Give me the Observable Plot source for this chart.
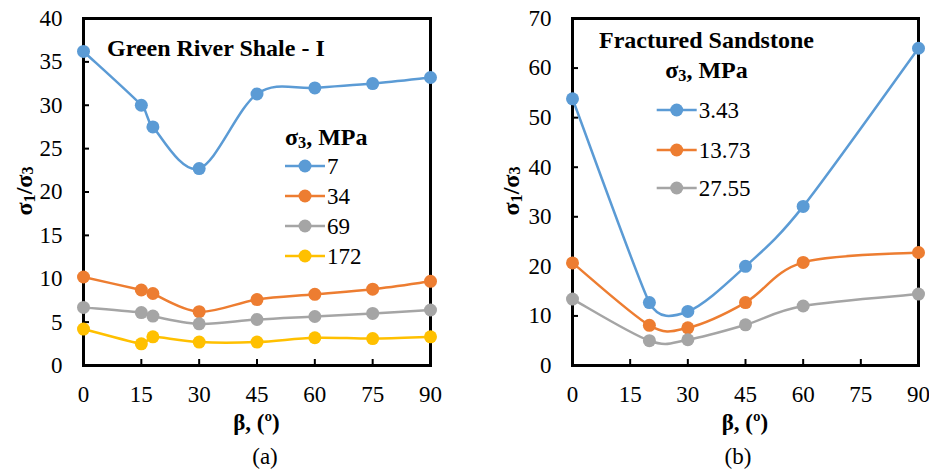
<!DOCTYPE html>
<html><head><meta charset="utf-8">
<script src="https://cdn.jsdelivr.net/npm/d3@7"></script>
<script src="https://cdn.jsdelivr.net/npm/@observablehq/plot@0.6"></script>
<style>
body{margin:0;background:#fff;font-family:"Liberation Serif",serif;}
#wrap{display:flex;width:929px;height:471px;}
.panel{position:relative;height:471px;}
.panel svg, .panel svg text, .panel svg tspan{font-family:"Liberation Serif",serif !important;}
.cap{position:absolute;top:444px;font-size:23px;line-height:26px;color:#000;transform:translateX(-50%);white-space:nowrap;}
</style></head><body>
<div id="wrap"><div class="panel" id="pa" style="width:465px"></div><div class="panel" id="pb" style="width:464px"></div></div>
<script>
// ---- Panel (a): Green River Shale - I ----
const betaA = [0, 15, 18, 30, 45, 60, 75, 90];
const seriesA = ["7", "34", "69", "172"];
const a7   = [36.2, 30.0, 27.5, 22.7, 31.3, 32.0, 32.5, 33.2];
const a34  = [10.2, 8.7, 8.3, 6.2, 7.6, 8.2, 8.8, 9.7];
const a69  = [6.7, 6.1, 5.7, 4.8, 5.3, 5.65, 6.0, 6.4];
const a172 = [4.2, 2.5, 3.3, 2.7, 2.7, 3.2, 3.1, 3.3];
const colorsA = ["#5B9BD5", "#ED7D31", "#A5A5A5", "#FFC000"];
const xTicks = [0, 15, 30, 45, 60, 75, 90];
const yTicksA = [0, 5, 10, 15, 20, 25, 30, 35, 40];

// ---- Panel (b): Fractured Sandstone ----
const betaB = [0, 20, 30, 45, 60, 90];
const seriesB = ["3.43", "13.73", "27.55"];
const b343  = [53.8, 12.7, 10.9, 20.0, 32.1, 64.0];
const b1373 = [20.7, 8.1, 7.6, 12.7, 20.8, 22.8];
const b2755 = [13.4, 5.0, 5.2, 8.2, 12.0, 14.4];
const colorsB = ["#5B9BD5", "#ED7D31", "#A5A5A5"];
const yTicksB = [0, 10, 20, 30, 40, 50, 60, 70];

function rows(beta, names, arrs) {
  const out = [];
  names.forEach((n, i) => arrs[i].forEach((v, j) => out.push({beta: beta[j], v, s: n})));
  return out;
}
const rowsA = rows(betaA, seriesA, [a7, a34, a69, a172]);
const rowsB = rows(betaB, seriesB, [b343, b1373, b2755]);

// Spreadsheet-style smoothed line: Catmull-Rom (1/6) tangents, clamped to half the adjacent segment length
function smoothCurve(context) {
  let pts;
  return {
    areaStart() {}, areaEnd() {},
    lineStart() { pts = []; },
    point(x, y) { pts.push([+x, +y]); },
    lineEnd() {
      const n = pts.length;
      if (!n) return;
      context.moveTo(pts[0][0], pts[0][1]);
      if (n === 1) return;
      if (n === 2) { context.lineTo(pts[1][0], pts[1][1]); return; }
      const T = pts.map((p, i) => {
        const a = pts[Math.max(0, i - 1)], b = pts[Math.min(n - 1, i + 1)];
        let tx = (b[0] - a[0]) / 6, ty = (b[1] - a[1]) / 6;
        const L = Math.hypot(tx, ty);
        if (L > 0) {
          let s = 1;
          if (i > 0) s = Math.min(s, Math.hypot(p[0] - a[0], p[1] - a[1]) / 2 / L);
          if (i < n - 1) s = Math.min(s, Math.hypot(b[0] - p[0], b[1] - p[1]) / 2 / L);
          tx *= s; ty *= s;
        }
        return [tx, ty];
      });
      for (let i = 0; i < n - 1; i++) {
        const p = pts[i], q = pts[i + 1];
        context.bezierCurveTo(p[0] + T[i][0], p[1] + T[i][1], q[0] - T[i + 1][0], q[1] - T[i + 1][1], q[0], q[1]);
      }
    }
  };
}

function make(cfg) {
  return Plot.plot({
    width: cfg.width, height: 440,
    marginLeft: cfg.ml, marginRight: cfg.mr, marginTop: 18, marginBottom: 75,
    style: {fontSize: "23px", color: "#000", background: "#fff", overflow: "hidden"},
    x: {domain: [0, 90]},
    y: {domain: cfg.ydom},
    color: {domain: cfg.names, range: cfg.colors},
    marks: [
      Plot.axisY({ticks: cfg.yticks, tickSize: 0, tickPadding: 21, label: null, fontSize: 23}),
      Plot.axisY({ticks: cfg.yticks, tickSize: -6, text: null, label: null, strokeWidth: 2}),
      Plot.axisX({ticks: xTicks, tickSize: 0, tickPadding: 20, label: null, fontSize: 23}),
      Plot.axisX({ticks: xTicks, tickSize: -6, text: null, label: null, strokeWidth: 2}),
      Plot.frame({stroke: "#000", strokeWidth: 3}),
      Plot.line(cfg.data, {x: "beta", y: "v", z: "s", stroke: "s", curve: smoothCurve, strokeWidth: 2.5}),
      Plot.dot(cfg.data, {x: "beta", y: "v", fill: "s", r: 6.5})
    ]
  });
}

function decorate(svg, o) {
  const s = d3.select(svg);
  // y-axis title
  const yt = s.append("text").attr("transform", `translate(${o.ylx},191) rotate(-90)`)
    .attr("text-anchor", "middle").attr("dominant-baseline", "central")
    .attr("font-weight", "bold").attr("font-size", 24);
  yt.append("tspan").text("σ");
  yt.append("tspan").text("1").attr("font-size", "0.68em").attr("dy", "0.3em");
  yt.append("tspan").text("/σ").attr("dy", "-0.2em");
  yt.append("tspan").text("3").attr("font-size", "0.68em").attr("dy", "0.2em");
  // x-axis title
  s.append("text").attr("x", o.xlx).attr("y", 422).attr("text-anchor", "middle")
    .attr("dominant-baseline", "central").attr("font-weight", "bold").attr("font-size", 23)
    .text("β, (º)");
  // titles
  o.titles.forEach(t => {
    const el = s.append("text").attr("x", t.x).attr("y", t.y).attr("text-anchor", t.anchor)
      .attr("dominant-baseline", "central").attr("font-weight", "bold").attr("font-size", 24);
    if (t.sigma) {
      el.append("tspan").text("σ");
      el.append("tspan").text("3").attr("font-size", "0.68em").attr("dy", "0.3em");
      el.append("tspan").text(", MPa").attr("dy", "-0.2em");
    } else el.text(t.text);
  });
  // legend
  o.names.forEach((n, i) => {
    const y = o.ly[i];
    s.append("line").attr("x1", o.lx0).attr("x2", o.lx1).attr("y1", y).attr("y2", y)
      .attr("stroke", o.colors[i]).attr("stroke-width", 2.5);
    s.append("circle").attr("cx", (o.lx0 + o.lx1) / 2).attr("cy", y).attr("r", 6.5).attr("fill", o.colors[i]);
    s.append("text").attr("x", o.lx1 + 2).attr("y", y).attr("text-anchor", "start")
      .attr("dominant-baseline", "central").attr("font-size", 23).text(n);
  });
}

const svgA = make({width: 465, ml: 83, mr: 35, ydom: [0, 40], yticks: yTicksA, names: seriesA, colors: colorsA, data: rowsA});
decorate(svgA, {ylx: 24, xlx: 256.5, names: seriesA, colors: colorsA,
  titles: [{x: 107, y: 48, anchor: "start", text: "Green River Shale - I"}, {x: 285, y: 137, anchor: "start", sigma: true}],
  lx0: 285, lx1: 325, ly: [166, 196, 226, 256]});
document.getElementById("pa").append(svgA);
const capA = document.createElement("div"); capA.className = "cap"; capA.style.left = "265px"; capA.textContent = "(a)";
document.getElementById("pa").append(capA);

const svgB = make({width: 464, ml: 107, mr: 11, ydom: [0, 70], yticks: yTicksB, names: seriesB, colors: colorsB, data: rowsB});
decorate(svgB, {ylx: 46, xlx: 280, names: seriesB, colors: colorsB,
  titles: [{x: 241.5, y: 40, anchor: "middle", text: "Fractured Sandstone"}, {x: 241.5, y: 70, anchor: "middle", sigma: true}],
  lx0: 191.7, lx1: 231.7, ly: [110, 150, 188]});
document.getElementById("pb").append(svgB);
const capB = document.createElement("div"); capB.className = "cap"; capB.style.left = "273px"; capB.textContent = "(b)";
document.getElementById("pb").append(capB);
</script>
</body></html>
